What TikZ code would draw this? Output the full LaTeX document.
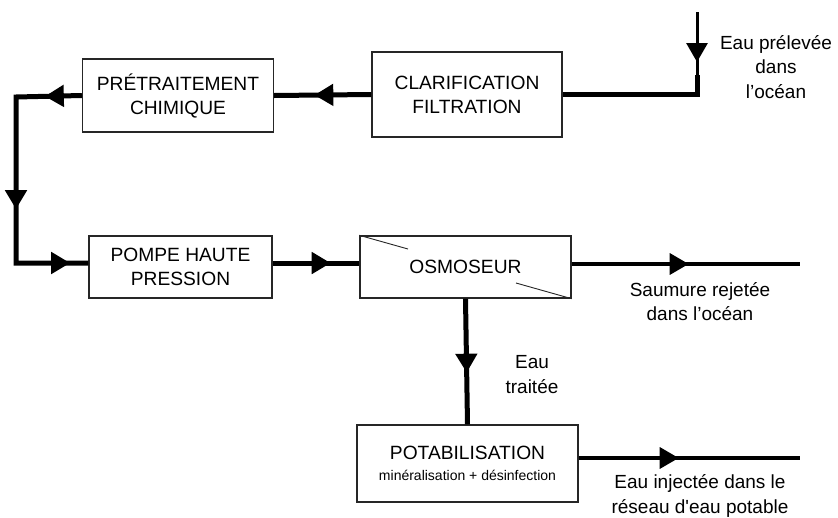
\documentclass[tikz,border=0pt]{standalone}
\usepackage{fontspec}
\setmainfont{Liberation Sans}
\newfontfamily\straightfont{Liberation Sans}[Ligatures=ResetAll]
\usetikzlibrary{arrows.meta,decorations.markings}
\tikzset{
  box/.style={draw=black!85, line width=1.4pt, fill=white, align=center,
    inner sep=0pt, font=\fontsize{19.2pt}{24pt}\selectfont},
  lbl/.style={align=center, inner sep=0pt, font=\fontsize{19pt}{24.5pt}\selectfont},
  flow/.style={line width=5pt},
  thinflow/.style={line width=3.5pt},
  tip/.style={postaction={decorate}, decoration={markings,
      mark=at position #1 with {\arrow{Triangle[length=19pt,width=21pt]}}}},
  tiptwo/.style n args={3}{postaction={decorate}, decoration={markings,
      mark=at position #1 with {\arrow{Triangle[length=19pt,width=21pt]}},
      mark=at position #2 with {\arrow{Triangle[length=19pt,width=21pt]}},
      mark=at position #3 with {\arrow{Triangle[length=19pt,width=21pt]}}}},
}
\begin{document}
\begin{tikzpicture}[x=1pt,y=-1pt]
\path[fill=white,use as bounding box] (0,0) rectangle (838,517);

% boxes
\node[box, minimum width=191pt, minimum height=73pt] (pre) at (178,95.5) {PRÉTRAITEMENT\\CHIMIQUE};
\node[box, minimum width=190pt, minimum height=85pt] (clar) at (467,94.5) {CLARIFICATION\\FILTRATION};
\node[box, minimum width=183pt, minimum height=62pt] (pompe) at (180.5,267) {POMPE HAUTE\\PRESSION};
\node[box, minimum width=211pt, minimum height=62pt] (osmo) at (465.5,267) {OSMOSEUR};
\node[box, minimum width=221pt, minimum height=77pt] (pota) at (467.5,463.5)
  {\raisebox{2pt}{POTABILISATION}\\[-5pt]{\fontsize{14pt}{16pt}\selectfont minéralisation + désinfection}};

% osmoseur membrane marks
\coordinate (d1) at (408,249);
\coordinate (d2) at (516,283);
\draw[line width=0.9pt, black!85] (osmo.north west) -- (d1);
\draw[line width=0.9pt, black!85] (d2) -- (osmo.south east);

% free ends
\coordinate (in) at (697,12);
\coordinate (inb) at (697,75);
\coordinate (left) at (16,97);
\coordinate (saum) at (800,264);
\coordinate (potend) at (800,458);

% connectors
\draw[line width=3pt, tip=50pt] (in) -- (inb);
\draw[flow] (inb) |- (clar.east);
\draw[flow, tip=57pt] (clar.west) -- (pre.east);
\draw[flow, tiptwo={37pt}{178pt}{286pt}] (pre.west) -- (left) |- ([yshift=4pt]pompe.west);
\draw[flow, tip=58pt] ([yshift=4pt]pompe.east) -- ([yshift=4pt]osmo.west);
\draw[thinflow, tip=117pt] ([yshift=3pt]osmo.east) -- (saum);
\draw[flow, tip=74pt] (osmo.south) -- (pota.north);
\draw[thinflow, tip=100pt] ([yshift=5.5pt]pota.east) -- (potend);

% labels
\node[lbl] (l1) at (776,67) {Eau prélevée\\dans\\l’océan};
\node[lbl] (l2) at (700,301.5) {Saumure rejetée\\dans l’océan};
\node[lbl] (l3) at (532,374.5) {Eau\\traitée};
\node[lbl] (l4) at (700,496) {Eau injectée dans le\\réseau d{\straightfont '}eau potable};
\end{tikzpicture}
\end{document}
